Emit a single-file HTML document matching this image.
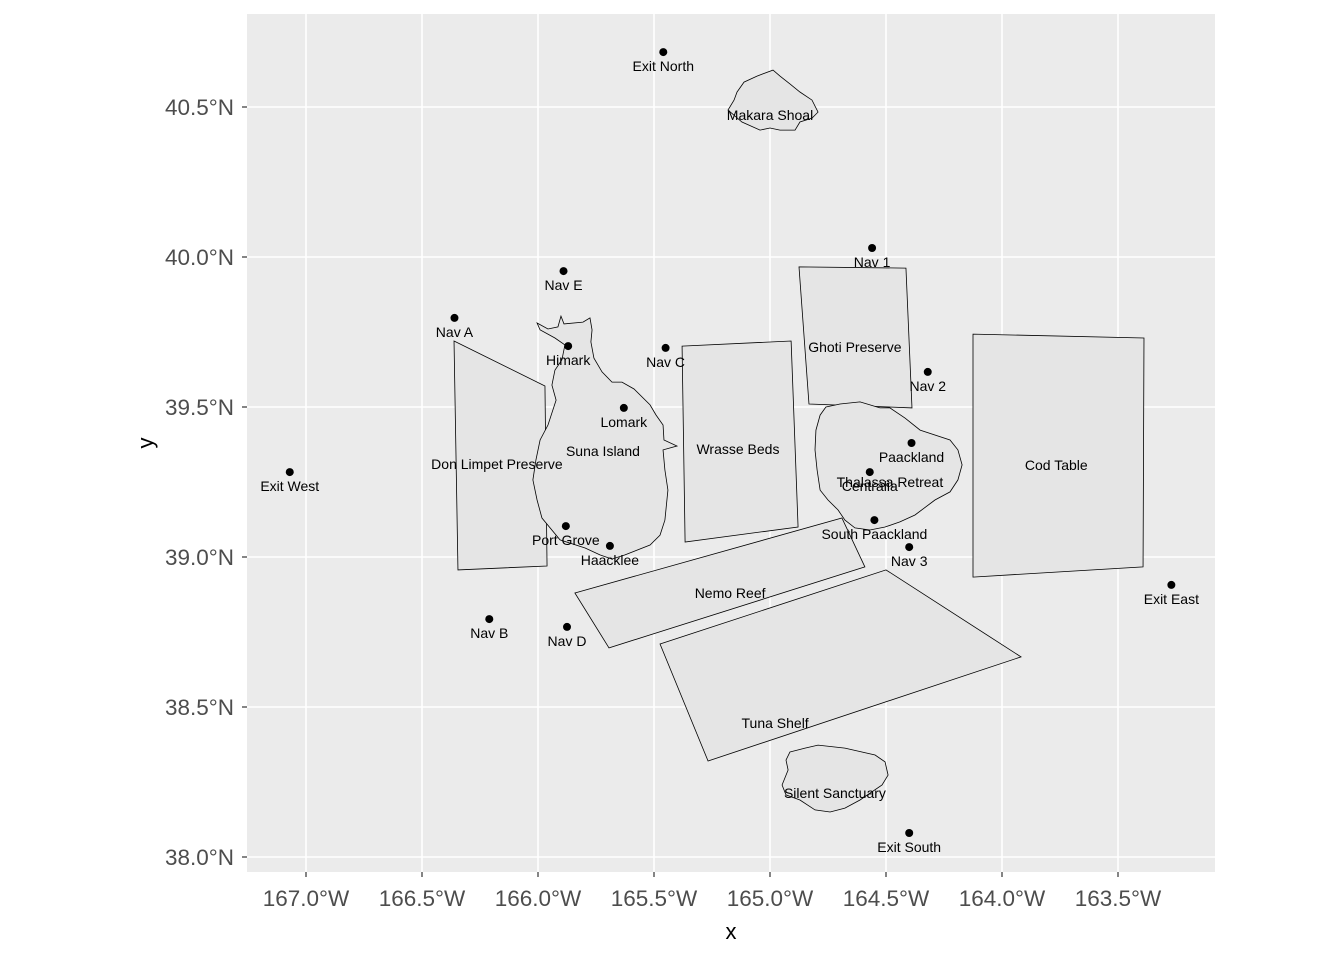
<!DOCTYPE html>
<html><head><meta charset="utf-8"><style>
body{margin:0;background:#fff}
svg{font-family:"Liberation Sans",sans-serif;display:block}
</style></head><body>
<svg id="chart" width="1344" height="960"></svg>
<script>
const xTicks=[-167,-166.5,-166,-165.5,-165,-164.5,-164,-163.5];
const xTickLabels=["167.0°W","166.5°W","166.0°W","165.5°W","165.0°W","164.5°W","164.0°W","163.5°W"];
const yTicks=[38,38.5,39,39.5,40,40.5];
const yTickLabels=["38.0°N","38.5°N","39.0°N","39.5°N","40.0°N","40.5°N"];
const pointNames=["Exit North","Nav 1","Nav E","Nav A","Himark","Nav C","Nav 2","Lomark","Paackland","Exit West","Centralia","South Paackland","Port Grove","Haacklee","Nav 3","Exit East","Nav B","Nav D","Exit South"];
const pointLon=[-165.46,-164.56,-165.89,-166.36,-165.87,-165.45,-164.32,-165.63,-164.39,-167.07,-164.57,-164.55,-165.88,-165.69,-164.40,-163.27,-166.21,-165.875,-164.40];
const pointLat=[40.683,40.03,39.953,39.797,39.703,39.697,39.617,39.497,39.38,39.283,39.283,39.123,39.103,39.037,39.033,38.907,38.793,38.767,38.08];
const areaNames=["Makara Shoal","Ghoti Preserve","Don Limpet Preserve","Suna Island","Wrasse Beds","Cod Table","Thalassa Retreat","Nemo Reef","Tuna Shelf","Silent Sanctuary"];
const areaLabelLon=[-165.0,-164.634,-166.177,-165.72,-165.138,-163.766,-164.483,-165.172,-164.978,-164.72];
const areaLabelLat=[40.473,39.7,39.31,39.353,39.36,39.307,39.25,38.88,38.447,38.213];
const areaShapes=[
[[-165.142,40.55],[-165.112,40.583],[-165.056,40.603],[-164.987,40.623],[-164.957,40.603],[-164.914,40.577],[-164.871,40.55],[-164.819,40.523],[-164.793,40.483],[-164.819,40.463],[-164.871,40.45],[-164.892,40.423],[-164.957,40.423],[-165.0,40.43],[-165.043,40.423],[-165.121,40.45],[-165.181,40.49],[-165.155,40.523]],
[[-164.875,39.967],[-164.414,39.963],[-164.388,39.497],[-164.832,39.51]],
[[-166.362,39.72],[-165.970,39.57],[-165.961,38.97],[-166.345,38.957]],
[[-166.004,39.78],[-165.957,39.76],[-165.914,39.767],[-165.901,39.803],[-165.888,39.777],[-165.806,39.783],[-165.776,39.797],[-165.767,39.757],[-165.772,39.717],[-165.759,39.663],[-165.724,39.617],[-165.681,39.583],[-165.638,39.583],[-165.586,39.56],[-165.517,39.507],[-165.491,39.473],[-165.461,39.44],[-165.457,39.39],[-165.401,39.37],[-165.461,39.357],[-165.453,39.29],[-165.440,39.223],[-165.453,39.123],[-165.474,39.073],[-165.517,39.04],[-165.625,39.007],[-165.681,38.993],[-165.733,39.007],[-165.797,39.03],[-165.905,39.057],[-165.983,39.13],[-166.004,39.19],[-166.022,39.257],[-166.009,39.323],[-165.991,39.39],[-165.957,39.44],[-165.922,39.523],[-165.940,39.573],[-165.927,39.623],[-165.897,39.657],[-165.884,39.707],[-165.927,39.73],[-165.991,39.757]],
[[-165.379,39.703],[-164.909,39.72],[-164.879,39.10],[-165.366,39.05]],
[[-164.125,39.743],[-163.388,39.73],[-163.392,38.967],[-164.125,38.933]],
[[-164.759,39.5],[-164.698,39.51],[-164.612,39.517],[-164.526,39.497],[-164.483,39.497],[-164.418,39.463],[-164.353,39.423],[-164.224,39.39],[-164.190,39.357],[-164.172,39.307],[-164.190,39.257],[-164.224,39.217],[-164.289,39.19],[-164.375,39.14],[-164.440,39.117],[-164.504,39.1],[-164.569,39.09],[-164.634,39.097],[-164.677,39.123],[-164.707,39.157],[-164.750,39.19],[-164.784,39.223],[-164.797,39.29],[-164.806,39.357],[-164.802,39.423],[-164.784,39.473]],
[[-165.841,38.88],[-164.69,39.13],[-164.591,38.967],[-165.694,38.697]],
[[-165.474,38.71],[-164.5,38.957],[-163.918,38.667],[-165.267,38.32]],
[[-164.914,38.35],[-164.849,38.363],[-164.793,38.373],[-164.677,38.363],[-164.547,38.34],[-164.504,38.317],[-164.491,38.273],[-164.517,38.24],[-164.612,38.19],[-164.677,38.163],[-164.741,38.15],[-164.806,38.157],[-164.871,38.19],[-164.931,38.207],[-164.948,38.24],[-164.922,38.29],[-164.931,38.323]]
];
const NS="http://www.w3.org/2000/svg";
const svg=document.getElementById("chart");
const P={l:247,r:1215,t:14,b:872};
function sx(lon){return 306+(lon+167)*232;}
function sy(lat){return 857-(lat-38)*300;}
function mk(tag,attrs,parent){const e=document.createElementNS(NS,tag);for(const k in attrs)e.setAttribute(k,attrs[k]);(parent||svg).appendChild(e);return e;}
const bg=mk("rect",{x:P.l,y:P.t,width:P.r-P.l,height:P.b-P.t,fill:"#ebebeb"});


xTicks.forEach((v,i)=>{const x=sx(v);
 const g=mk("line",{x1:x,x2:x,y1:P.t,y2:P.b,stroke:"#fff","stroke-width":1.6});
 
 
 mk("line",{x1:x,x2:x,y1:P.b,y2:P.b+5,stroke:"#333","stroke-width":1.2});
 const t=mk("text",{x:x,y:906,"text-anchor":"middle","font-size":22.5,fill:"#4d4d4d"});t.textContent=xTickLabels[i];
 
 });
yTicks.forEach((v,i)=>{const y=sy(v);
 const g=mk("line",{x1:P.l,x2:P.r,y1:y,y2:y,stroke:"#fff","stroke-width":1.6});
 
 
 mk("line",{x1:P.l-5,x2:P.l,y1:y,y2:y,stroke:"#333","stroke-width":1.2});
 const t=mk("text",{x:P.l-13,y:y+8,"text-anchor":"end","font-size":22.5,fill:"#4d4d4d"});t.textContent=yTickLabels[i];
 
 });
areaShapes.forEach((s,i)=>{
 const p=mk("polygon",{points:s.map(q=>sx(q[0])+","+sy(q[1])).join(" "),fill:"#e5e5e5",stroke:"#000","stroke-width":0.8});
 
 });
areaNames.forEach((n,i)=>{
 const t=mk("text",{x:sx(areaLabelLon[i]),y:sy(areaLabelLat[i])+5,"text-anchor":"middle","font-size":14,fill:"#000"});t.textContent=n;
 
 });
pointNames.forEach((n,i)=>{const x=sx(pointLon[i]),y=sy(pointLat[i]);
 const c=mk("circle",{cx:x,cy:y,r:4,fill:"#000"});
 
 
 const t=mk("text",{x:x,y:y+19,"text-anchor":"middle","font-size":14,fill:"#000"});t.textContent=n;
 
 });
const xt=mk("text",{x:731,y:939,"text-anchor":"middle","font-size":22,fill:"#000"});xt.textContent="x";


const yt=mk("text",{x:153,y:443,"text-anchor":"middle","font-size":22,fill:"#000",transform:"rotate(-90 153 443)"});yt.textContent="y";


</script>
</body></html>
